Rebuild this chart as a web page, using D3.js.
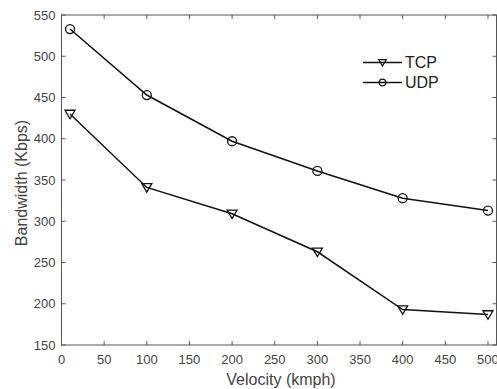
<!DOCTYPE html>
<html>
<head>
<meta charset="utf-8">
<script src="https://cdn.jsdelivr.net/npm/d3@7"></script>
<style>
  body { margin: 0; background: #fff; }
  text { font-family: "Liberation Sans", Arial, sans-serif; }
</style>
</head>
<body>
<div id="chart"></div>
<script>
const velocity = [10, 100, 200, 300, 400, 500];
const tcp = [430, 341, 309, 263, 193, 187];
const udp = [533, 453, 397, 361, 328, 313];
const xTicks = [0, 50, 100, 150, 200, 250, 300, 350, 400, 450, 500];
const yTicks = [150, 200, 250, 300, 350, 400, 450, 500, 550];

const margin = { top: 15, right: 0.5, bottom: 44, left: 61.5 };
const W = 497, H = 389;
const width = W - margin.left - margin.right;
const height = H - margin.top - margin.bottom;
const axisColor = '#555';
const labelColor = '#444';

const x = d3.scaleLinear().domain([0, 510]).range([0, width]);
const y = d3.scaleLinear().domain([150, 550]).range([height, 0]);

const svg = d3.select('#chart').append('svg')
    .attr('width', W)
    .attr('height', H)
  .append('g')
    .attr('transform', `translate(${margin.left}, ${margin.top})`);

// box
svg.append('rect')
    .attr('width', width)
    .attr('height', height)
    .attr('fill', 'none')
    .attr('stroke', axisColor)
    .attr('stroke-width', 1);

const tickLen = 4;
// x ticks bottom + top
svg.selectAll('.xt').data(xTicks).enter().append('path')
    .attr('d', (d) => `M${x(d)},${height}v${-tickLen}M${x(d)},0v${tickLen}`)
    .attr('stroke', axisColor);
svg.selectAll('.xl').data(xTicks).enter().append('text')
    .attr('x', (d) => x(d))
    .attr('y', height + 19)
    .attr('text-anchor', 'middle')
    .attr('font-size', 13)
    .attr('fill', labelColor)
    .text((d) => d);

// y ticks left + right
svg.selectAll('.yt').data(yTicks).enter().append('path')
    .attr('d', (d) => `M0,${y(d)}h${tickLen}M${width},${y(d)}h${-tickLen}`)
    .attr('stroke', axisColor);
svg.selectAll('.yl').data(yTicks).enter().append('text')
    .attr('x', -6)
    .attr('y', (d) => y(d) + 4.5)
    .attr('text-anchor', 'end')
    .attr('font-size', 13)
    .attr('fill', labelColor)
    .text((d) => d);

// axis titles
svg.append('text')
    .attr('x', width / 2 + 2)
    .attr('y', height + 40)
    .attr('text-anchor', 'middle')
    .attr('font-size', 16)
    .attr('fill', labelColor)
    .text('Velocity (kmph)');
svg.append('text')
    .attr('transform', `translate(${-34.5}, ${height / 2 + 3}) rotate(-90)`)
    .attr('text-anchor', 'middle')
    .attr('font-size', 16)
    .attr('fill', labelColor)
    .text('Bandwidth (Kbps)');

const line = d3.line()
    .x((d, i) => x(velocity[i]))
    .y((d) => y(d));

const triangle = (s) => `M${-s},${-s * 0.75}L${s},${-s * 0.75}L0,${s * 0.95}Z`;

function drawSeries(values, marker) {
  svg.append('path')
      .datum(values)
      .attr('d', line)
      .attr('fill', 'none')
      .attr('stroke', '#111')
      .attr('stroke-width', 1.5);
  const pts = svg.selectAll(null).data(values).enter();
  if (marker === 'circle') {
    pts.append('circle')
        .attr('cx', (d, i) => x(velocity[i]))
        .attr('cy', (d) => y(d))
        .attr('r', 4.5)
        .attr('fill', 'none')
        .attr('stroke', '#111')
        .attr('stroke-width', 1.3);
  } else {
    pts.append('path')
        .attr('transform', (d, i) => `translate(${x(velocity[i])},${y(d)})`)
        .attr('d', triangle(5))
        .attr('fill', 'none')
        .attr('stroke', '#111')
        .attr('stroke-width', 1.3);
  }
}

drawSeries(tcp, 'triangle');
drawSeries(udp, 'circle');

// legend
const legend = [
  { name: 'TCP', marker: 'triangle', y: 62.5 },
  { name: 'UDP', marker: 'circle', y: 82.5 }
];
const lg = d3.select('svg').append('g');
legend.forEach((l) => {
  lg.append('path')
      .attr('d', `M363,${l.y}H402`)
      .attr('stroke', '#111')
      .attr('stroke-width', 1.3);
  if (l.marker === 'circle') {
    lg.append('circle')
        .attr('cx', 382.5).attr('cy', l.y).attr('r', 3.3)
        .attr('fill', 'none').attr('stroke', '#111').attr('stroke-width', 1.2);
  } else {
    lg.append('path')
        .attr('transform', `translate(382.5,${l.y})`)
        .attr('d', triangle(3.8))
        .attr('fill', 'none').attr('stroke', '#111').attr('stroke-width', 1.2);
  }
  lg.append('text')
      .attr('x', 405)
      .attr('y', l.y + 5.5)
      .attr('font-size', 16)
      .attr('fill', '#222')
      .text(l.name);
});
</script>
</body>
</html>
